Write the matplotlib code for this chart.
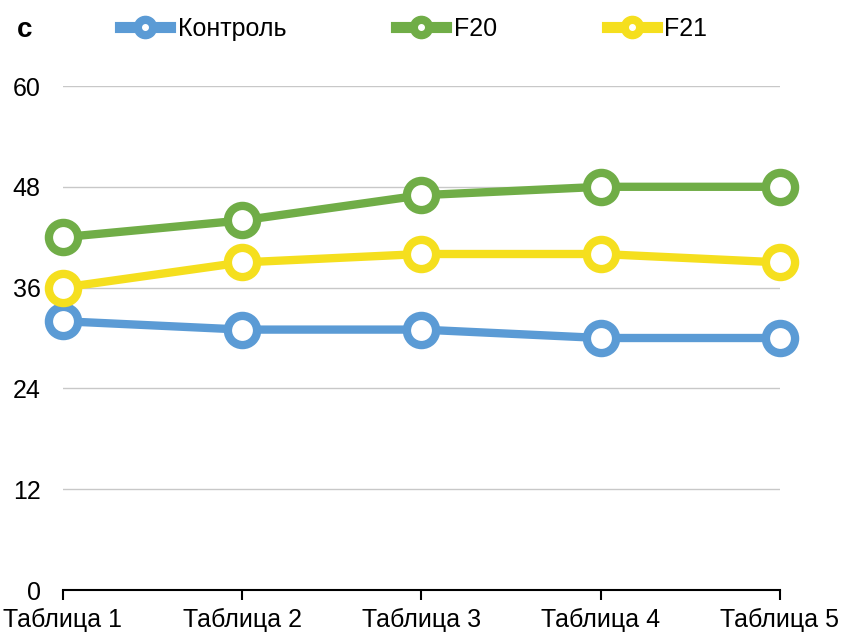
import matplotlib
matplotlib.use("Agg")
import matplotlib.pyplot as plt
from matplotlib.lines import Line2D

categories = ["Таблица 1", "Таблица 2", "Таблица 3", "Таблица 4", "Таблица 5"]
series_names = ["Контроль", "F20", "F21"]
control = [32, 31, 31, 30, 30]
f20 = [42, 44, 47, 48, 48]
f21 = [36, 39, 40, 40, 39]
yticks = [0, 12, 24, 36, 48, 60]
colors = ["#5B9BD5", "#70AD47", "#F5DF1E"]

plt.rcParams['font.family'] = ['Liberation Sans', 'DejaVu Sans']

fig = plt.figure(figsize=(8.45, 6.33), dpi=100)
ax = fig.add_axes([63/845, 43/633, 717/845, 504/633])

x = list(range(len(categories)))
for data, c in zip([control, f20, f21], colors):
    ax.plot(x, data, color=c, lw=6, marker='o', markersize=21,
            markerfacecolor='white', markeredgecolor=c, markeredgewidth=6,
            solid_capstyle='round', zorder=3, clip_on=False)

ax.set_xlim(0, len(categories) - 1)
ax.set_ylim(0, 60)
ax.set_yticks(yticks)
ax.set_yticklabels([str(v) for v in yticks], fontsize=18)
ax.set_xticks(x)
ax.set_xticklabels(categories, fontsize=18)
ax.yaxis.grid(True, color='#C8C8C8', lw=1)
ax.set_axisbelow(True)
for s in ['left', 'right', 'top']:
    ax.spines[s].set_visible(False)
ax.spines['bottom'].set_color('black')
ax.spines['bottom'].set_linewidth(1.5)
ax.tick_params(axis='y', length=0, pad=16)
ax.tick_params(axis='x', direction='out', length=7, width=1.5, pad=6)

fig.text(25/845, 1 - 30/633, "с", fontsize=20, fontweight='bold', ha='center', va='center')

handles = [Line2D([0], [0], color=c, lw=8, marker='o', markersize=16,
                  markerfacecolor=c, markeredgecolor=c) for c in colors]
dots = [Line2D([0], [0], color='none', marker='o', markersize=4,
               markerfacecolor='white', markeredgecolor='white') for c in colors]
leg = fig.legend([(h, d) for h, d in zip(handles, dots)], series_names,
                 loc='center left', bbox_to_anchor=(120/845, 1 - 29/633), ncol=3,
                 frameon=False, fontsize=18, handlelength=2.0, handletextpad=0.3,
                 columnspacing=4.4, borderaxespad=0, borderpad=0)

fig.savefig("out.png", dpi=100)
